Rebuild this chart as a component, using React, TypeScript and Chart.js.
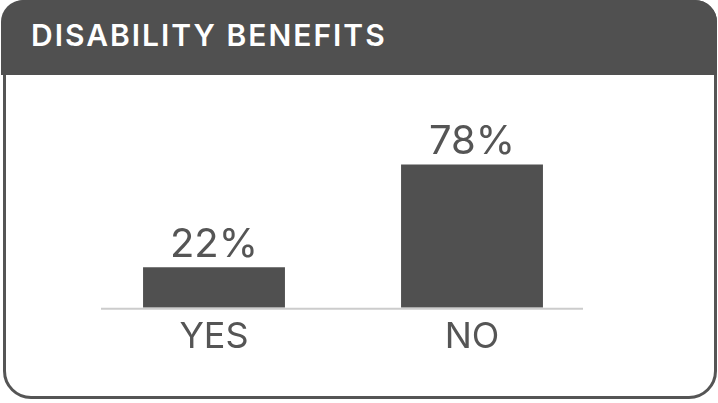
import React, { useEffect, useRef } from "react";
import { Chart, registerables } from "chart.js";

Chart.register(...registerables);

const title = "DISABILITY BENEFITS";
const categories = ["YES", "NO"];
const values = [22, 78];
const valueLabels = ["22%", "78%"];
const yMin = 0;
const yMax = 100;

const DARK = "#505050";
const TEXT = "#555555";
const FONT = "Inter, 'Open Sans', sans-serif";

export default function App() {
  const ref = useRef<HTMLCanvasElement>(null);

  useEffect(() => {
    document.body.style.margin = "0";
    const canvas = ref.current!;

    const valueLabelPlugin = {
      id: "valueLabels",
      afterDatasetsDraw(chart: any) {
        const ctx = chart.ctx;
        const meta = chart.getDatasetMeta(0);
        ctx.save();
        ctx.font = `400 40px ${FONT}`;
        ctx.fillStyle = TEXT;
        ctx.textAlign = "center";
        ctx.textBaseline = "alphabetic";
        meta.data.forEach((el: any, i: number) => {
          ctx.fillText(valueLabels[i], el.x, el.y - 10);
        });
        ctx.restore();
      },
    };

    const baselinePlugin = {
      id: "baseline",
      afterDatasetsDraw(chart: any) {
        const { ctx, chartArea, scales } = chart;
        const y = scales.y.getPixelForValue(yMin);
        ctx.save();
        ctx.strokeStyle = "#cccccc";
        ctx.lineWidth = 2;
        ctx.beginPath();
        ctx.moveTo(chartArea.left + 16, y + 1);
        ctx.lineTo(chartArea.right - 18, y + 1);
        ctx.stroke();
        ctx.restore();
      },
    };

    const chart = new Chart(canvas, {
      type: "bar",
      data: {
        labels: categories,
        datasets: [
          {
            data: values,
            backgroundColor: DARK,
            borderWidth: 0,
            barPercentage: 0.55,
            categoryPercentage: 1,
          },
        ],
      },
      options: {
        responsive: false,
        animation: false,
        layout: { padding: { left: 85, right: 117, top: 124, bottom: 36 } },
        plugins: {
          legend: { display: false },
          tooltip: { enabled: false },
          title: { display: false },
        },
        scales: {
          x: {
            grid: { display: false, drawTicks: false },
            border: { display: false },
            ticks: {
              color: TEXT,
              padding: 8,
              font: { family: FONT, size: 36, weight: "400" },
            },
          },
          y: {
            display: false,
            min: yMin,
            max: yMax,
          },
        },
      },
      plugins: [valueLabelPlugin, baselinePlugin],
    });

    return () => chart.destroy();
  }, []);

  return (
    <div
      style={{
        position: "fixed",
        left: 0,
        top: 0,
        width: 718,
        height: 403,
        background: "#ffffff",
        overflow: "hidden",
      }}
    >
      <div
        style={{
          position: "absolute",
          left: 3,
          top: 0,
          width: 714,
          height: 399,
          boxSizing: "border-box",
          border: "3px solid #555555",
          borderRadius: "22px 22px 28px 28px",
        }}
      />
      <div
        style={{
          position: "absolute",
          left: 1,
          top: 0,
          width: 716,
          height: 75,
          background: DARK,
          borderRadius: "22px 22px 0 0",
        }}
      >
        <span
          style={{
            position: "absolute",
            left: 30,
            top: 20,
            fontFamily: FONT,
            fontWeight: 600,
            fontSize: 30,
            lineHeight: "30px",
            letterSpacing: 2,
            color: "#ffffff",
            whiteSpace: "nowrap",
          }}
        >
          {title}
        </span>
      </div>
      <canvas
        ref={ref}
        width={718}
        height={403}
        style={{ position: "absolute", left: 0, top: 0 }}
      />
    </div>
  );
}
